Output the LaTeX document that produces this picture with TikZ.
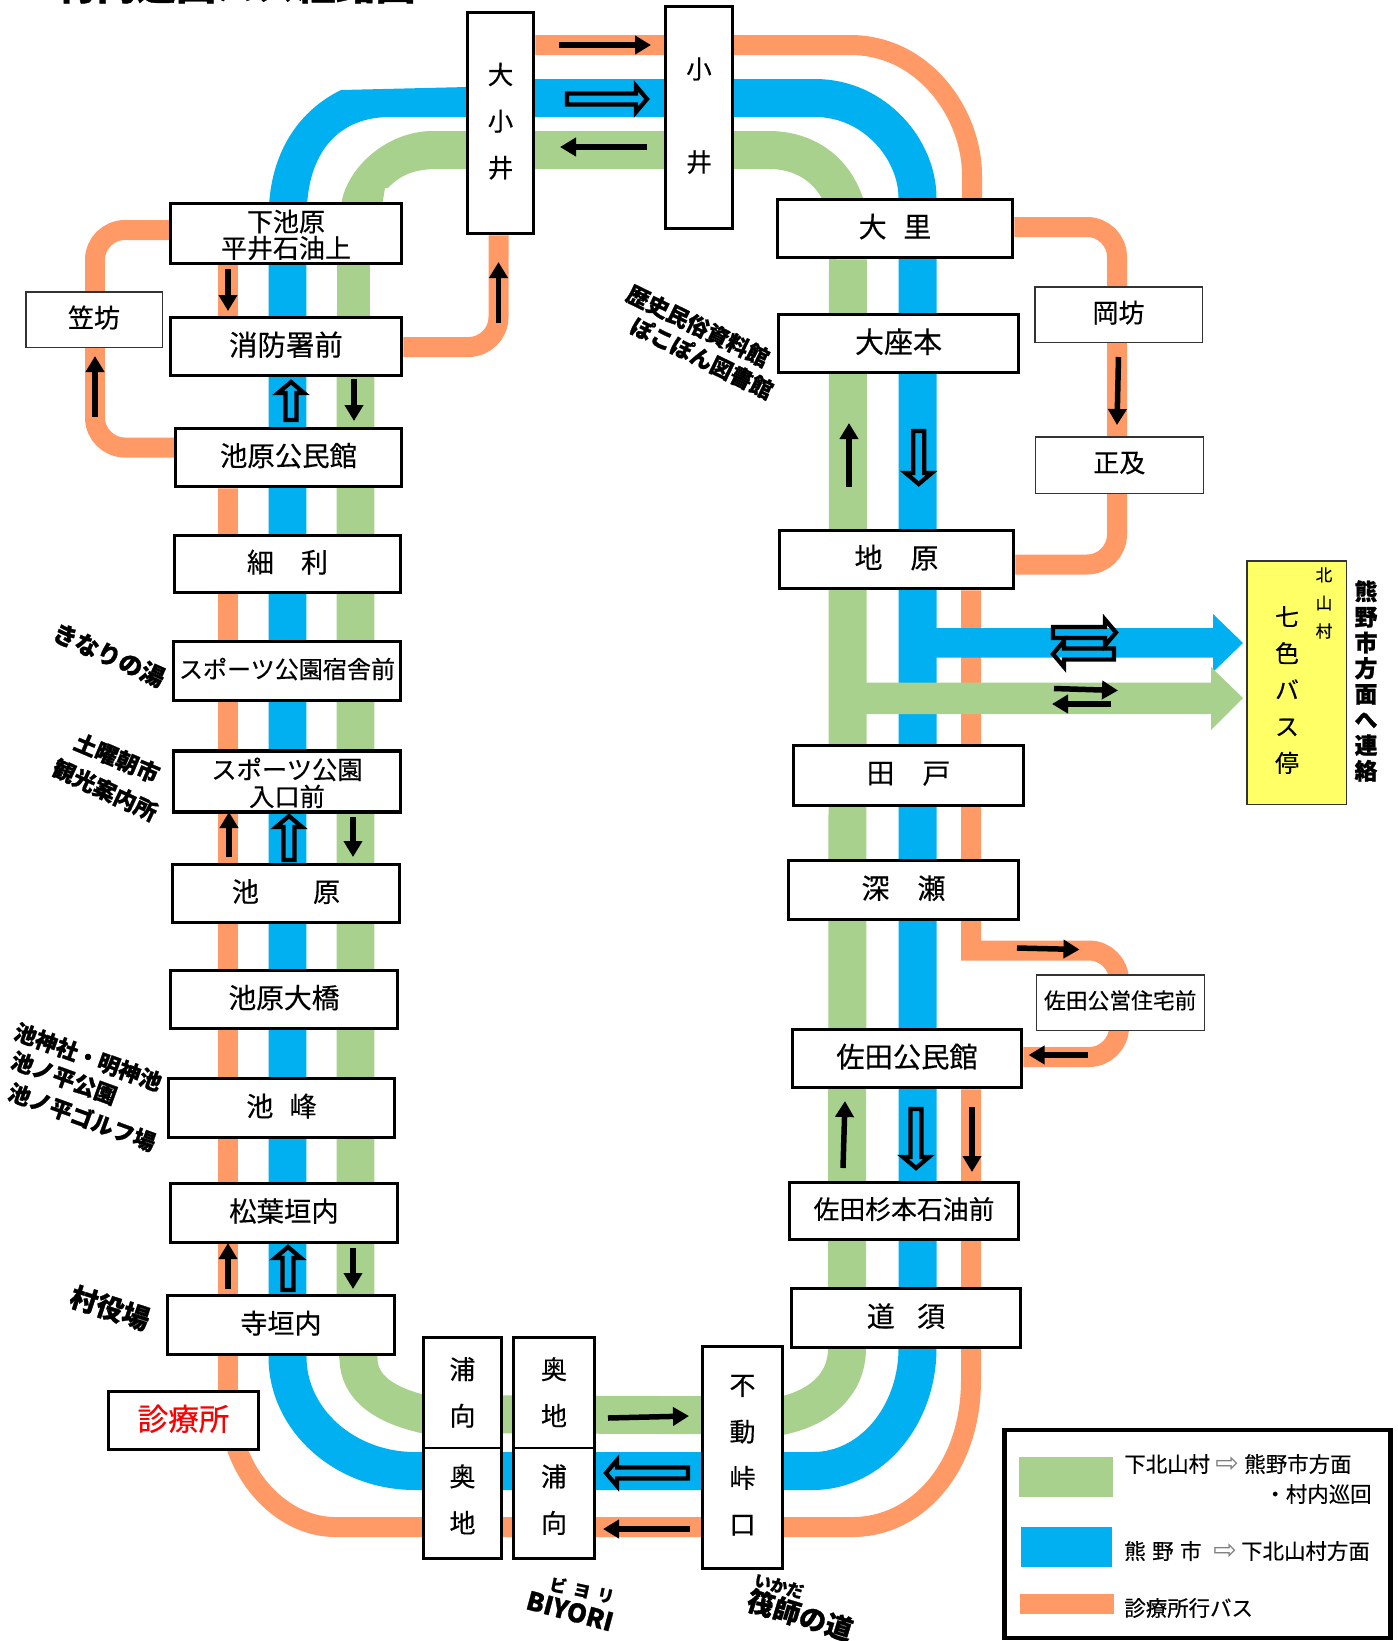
\documentclass[tikz,border=0pt]{standalone}
\usepackage{fontspec}
\setmainfont{Noto Sans CJK JP}[FakeBold=0.4, BoldFeatures={FakeBold=1.0}]
\newfontfamily\symbfont{DejaVu Sans}
\usetikzlibrary{arrows.meta, backgrounds}
\definecolor{busorange}{HTML}{FF9966}
\definecolor{busblue}{HTML}{00B0F0}
\definecolor{busgreen}{HTML}{A9D18E}
\definecolor{busyellow}{HTML}{FFFF66}

\begin{document}
\begin{tikzpicture}
% Style
[
    x=0.02cm, y=-0.02cm,
    stop box/.style={draw=black, line width=.07cm, fill=white, inner sep=0pt, align=center, text depth=.12cm},
    thin box/.style={draw=black!80, line width=.03cm, fill=white, inner sep=0pt, align=center, text depth=.12cm},
    swatch/.style={inner sep=0pt},
    band orange/.style={draw=busorange, line width=.4cm},
    band blue/.style={draw=busblue, line width=.76cm},
    band green/.style={draw=busgreen, line width=.76cm},
    dir arrow/.style={draw=black, line width=.11cm, -{Triangle[length=.32cm,width=.36cm]}},
    hollow arrow/.style={draw=black, line width=.085cm, line join=miter},
    spot label/.style={font=\bfseries\fontsize{\fs}{\fs}\selectfont, inner sep=0pt},
    legend text/.style={font=\fontsize{12.2}{14}\selectfont, inner sep=0pt}
]

% Define: hollow arrow from (#1,#2) to (#3,#4)
\newcommand{\drawhollow}[4]{
    \pgfmathsetmacro{\hlen}{veclen(#3-#1,#4-#2)}
    \pgfmathsetmacro{\ux}{(#3-#1)/\hlen}
    \pgfmathsetmacro{\uy}{(#4-#2)/\hlen}
    \begin{scope}[shift={(#1,#2)}, x={({\ux*0.02cm},{-\uy*0.02cm})}, y={({-\uy*0.02cm},{-\ux*0.02cm})}]
        \draw[hollow arrow] (2,-5.5)--({\hlen-15},-5.5)--({\hlen-15},-13)--({\hlen-4},0)
            --({\hlen-15},13)--({\hlen-15},5.5)--(2,5.5)--cycle;
    \end{scope}
}
% Define: arrow for legend
\newcommand{\keyarrow}{{\symbfont\fontsize{16}{14}\selectfont\textcolor{gray}{⇨}}}

\useasboundingbox (0,0) rectangle (1398,1641);

%================================== Stops ==================================
\foreach \nm/\xa/\ya/\xb/\yb/\fs/\bl/\txt in {
    shimoike/170/204/402/263/14.8/15/{\rule{0pt}{16pt}下池原\\平井石油上},
    fire/170/317/402/376/16.2/16/消防署前,
    ikeharahall/175/428/402/487/15.6/16/池原公民館,
    hosori/174/535/401/593/15.4/16/細　利,
    sportsinn/173/641/401/701/13.7/16/スポーツ公園宿舎前,
    sportsgate/173/752/401/811/14.4/15.4/{\rule{0pt}{16pt}スポーツ公園\\入口前},
    ikehara/172/864/400/923/15.4/16/池　　原,
    bridge/170/970/398/1029/15.8/16/池原大橋,
    ikemine/168/1078/395/1138/15.4/16/池\hspace{.6em}峰,
    matsuba/170/1183/398/1243/15.6/16/松葉垣内,
    teragaito/167/1295/395/1355/15.4/16/寺垣内,
    oogoi/467/12/534/234/14.5/26.5/{大\\小\\井},
    koi/665/6/733/229/14.5/53/{小\\井},
    oosato/777/199/1013/258/15.9/16/大\hspace{.6em}里,
    ozamoto/778/314/1019/373/16.5/16/大座本,
    jibara/779/530/1014/589/15.9/16/地　原,
    tado/793/745/1024/806/15.9/16/田　戸,
    fukase/788/860/1019/920/15.9/16/深　瀬,
    satahall/792/1029/1022/1088/16.1/16/佐田公民館,
    satasugi/789/1182/1019/1240/14.7/16/佐田杉本石油前,
    dosu/791/1288/1021/1348/15.9/16/道\hspace{.8em}須,
    urabox/423/1337/502/1559/14.8/26.5/{浦\\向\\[8pt]奥\\地},
    okubox/513/1337/595/1559/14.8/26.5/{奥\\地\\[8pt]浦\\向},
    fudo/702/1346/783/1569/14.8/26.4/{不\\動\\峠\\口}%
}{
    \node[stop box, font=\fontsize{\fs}{\bl}\selectfont, minimum width={(\xb-\xa-1)*0.02cm},
        minimum height={(\yb-\ya-1)*0.02cm}] (\nm) at ({(\xa+\xb)/2},{(\ya+\yb)/2}) {\txt};
}
\foreach \nm/\xa/\ya/\xb/\yb/\fs/\txt in {
    kasabo/25/291/163/348/14.8/笠坊,
    okabo/1034/286/1203/343/14.8/岡坊,
    masachika/1034.5/436/1204/494/14.8/正及,
    satakoei/1035.5/974/1205/1031/12.4/佐田公営住宅前%
}{
    \node[thin box, font=\fontsize{\fs}{16}\selectfont, minimum width={(\xb-\xa-1.5)*0.02cm},
        minimum height={(\yb-\ya-1.5)*0.02cm}] (\nm) at ({(\xa+\xb)/2},{(\ya+\yb)/2}) {\txt};
}
\node[stop box, text=red, font=\fontsize{17.4}{18}\selectfont, minimum width=150*0.02cm,
    minimum height=58*0.02cm] (clinic) at (183.5,1420.5) {診療所};
\draw[line width=.03cm] (urabox.west |- 0,1448) -- (urabox.east |- 0,1448);
\draw[line width=.03cm] (okubox.west |- 0,1448) -- (okubox.east |- 0,1448);

% Draw: Bus stop at the right
\node[thin box, fill=busyellow, minimum width=99.5*0.02cm, minimum height=243.5*0.02cm] (nanairo) at (1296.5,682.5) {};
\node[align=center, inner sep=0pt, font=\fontsize{13.6}{20.8}\selectfont] (nanaironame) at (1287,690) {七\\色\\バ\\ス\\停};
\node[align=center, inner sep=0pt, font=\fontsize{9.5}{16}\selectfont] (kitayama) at (1324,603) {北\\山\\村};
\node[align=center, inner sep=0pt, font=\bfseries\fontsize{13}{14.6}\selectfont] (renraku) at (1366,681) {熊\\野\\市\\方\\面\\へ\\連\\絡};

%================================== Labels =================================
\node[font=\bfseries\fontsize{22.7}{22.7}\selectfont, inner sep=0pt] (title) at (236,-15.5) {村内巡回バス経路図};
\foreach \nm/\cx/\cy/\ang/\fs/\txt in {
    museum/698/326/-26/12.6/歴史民俗資料館,
    library/702/358/-26/12.6/ぽこぽん図書館,
    onsen/109/655/-24/13.6/きなりの湯,
    market/117/758/-23/12.8/土曜朝市,
    info/105/790/-25/12.8/観光案内所,
    shrine/88/1057/-20/12.6/池神社・明神池,
    park/64/1078/-20/12.6/池ノ平公園,
    golf/82/1117/-20/12.6/池ノ平ゴルフ場,
    office/110/1308/-18/15.5/村役場,
    biyorikana/582/1590/-12/9.5/ビ\hspace{.45em}ヨ\hspace{.45em}リ,
    ikadakana/779/1586/-15/9.5/いかだ,
    ikada/800/1615/-17/15.5/筏師の道,
    biyori/570/1611/-15/14.5/BIYORI%
}{
    \node[spot label, rotate=\ang] (\nm) at (\cx,\cy) {\txt};
}

%================================== Legend =================================
\node[draw=black, line width=.09cm, minimum width=386*0.02cm, minimum height=208*0.02cm, inner sep=0pt] (legend) at (1197.5,1534) {};
\node[swatch, fill=busgreen, minimum width=94*0.02cm, minimum height=40*0.02cm] (keygreen) at (1066,1477) {};
\node[swatch, fill=busblue, minimum width=91*0.02cm, minimum height=40*0.02cm] (keyblue) at (1066.5,1547) {};
\node[swatch, fill=busorange, minimum width=94*0.02cm, minimum height=20*0.02cm] (keyorange) at (1067,1604) {};
\node[legend text, anchor=west] (textgreen) at (1124,1464) {下北山村\hspace{.25em}\keyarrow\hspace{.25em}熊野市方面};
\node[legend text, anchor=east] (textround) at (1372,1494) {・村内巡回};
\node[legend text, anchor=west] (textblue) at (1124,1551) {熊\hspace{.3em}野\hspace{.3em}市\hspace{.55em}\keyarrow\hspace{.2em}下北山村方面};
\node[legend text, anchor=west] (textorange) at (1124,1608) {診療所行バス};

%================================== Routes =================================
\begin{scope}[on background layer]
    % Draw: Orange
    \draw[band orange] (ikeharahall.west |- 0,447.5) [rounded corners=.6cm] -- (95,447.5) -- (95,230) -- (shimoike.west |- 0,230);
    \draw[band orange] (228,0 |- shimoike.south) -- (228,0 |- fire.north);
    \draw[band orange] (fire.east |- 0,347) [rounded corners=.6cm] -- (498.5,347) -- (498.5,0 |- oogoi.south);
    \draw[band orange] (oogoi.east |- 0,45) -- (850,45) .. controls (925,45) and (972,115) .. (972,175) -- (972,0 |- oosato.north);
    \draw[band orange] (oosato.east |- 0,227) [rounded corners=.6cm] -- (1117,227) -- (1117,564.5) -- (jibara.east |- 0,564.5);
    \draw[band orange] (971,0 |- jibara.south) -- (971,950.5) [rounded corners=.6cm] -- (1119,950.5) -- (1119,1057) -- (satahall.east |- 0,1057);
    \draw[band orange] (971,0 |- satahall.south) -- (971,1380) .. controls (971,1470) and (915,1527) .. (853,1527)
        -- (335,1527) .. controls (295,1527) and (255,1497) .. (237.5,1450) -- (228,1420) -- (228,0 |- ikeharahall.south);

    % Draw: Blue
    \draw[band blue] (287.5,0 |- shimoike.north) -- (287.5,1357) .. controls (287.5,1420) and (345,1471) .. (415,1471)
        -- (813,1471) .. controls (871,1471) and (917.5,1416) .. (917.5,1348) -- (917.5,0 |- oosato.north)
        .. controls (917.5,150) and (875,98) .. (815,98) -- (oogoi.center |- 0,98);
    \fill[busblue] (269,206) .. controls (272,150) and (300,110) .. (341,90) -- (467,87) -- (467,117) -- (390,117)
        .. controls (340,117) and (310,150) .. (307,206) -- cycle;
    \fill[busblue] (918,628) -- (1213,628) -- (1213,614) -- (1243,643) -- (1213,672) -- (1213,657.5) -- (918,657.5) -- cycle;

    % Draw: Green
    \draw[band green] (355.5,0 |- fire.north) -- (355.5,1340) -- (358.5,1358) .. controls (358.5,1388) and (385,1405) .. (423,1414)
        -- (783,1415.5) .. controls (820,1407) and (847,1385) .. (847,1348) -- (848,0 |- oosato.south);
    \draw[draw=busgreen, line width=.66cm] (353.5,0 |- shimoike.south) -- (353.5,0 |- fire.north);
    \draw[band green] (848,215) .. controls (838,170) and (805,150) .. (769,150) -- (oogoi.center |- 0,150);
    \fill[busgreen] (341,206) .. controls (345,170) and (385,131) .. (433,131) -- (467,131) -- (467,169) -- (437,169)
        .. controls (415,169) and (400,175) .. (388,188) -- (385,188) -- (382,206) -- cycle;
    \fill[busgreen] (848,682.5) -- (1211,682.5) -- (1211,667) -- (1243,698) -- (1211,730) -- (1211,714) -- (848,714) -- cycle;
\end{scope}

%================================== Arrows =================================
\foreach \xa/\ya/\xb/\yb in {
    559/45/651/45, 647/147/560/147, 228/269/228/311, 95/417/95/356, 498.5/323/498.5/262,
    354/379/354/421, 849/487/849/423, 1118.5/357/1117/425, 229/857/229/812, 353/817/353/857,
    228/1289/228/1243, 353/1248/353/1289, 1017/948/1079.5/949.5, 1087.6/1055/1028.6/1055,
    1054/688.5/1118/690.5, 1111/704/1052/704, 843/1168/845/1101, 972/1107/972/1172,
    608/1418/689/1416, 690/1529/603/1529%
}{
    \draw[dir arrow] (\xa,\ya)--(\xb,\yb);
}
\foreach \xa/\ya/\xb/\yb in {
    565/99/651/99, 291/422/291/378, 918.7/429/918.7/488, 289/862/289/812, 288/1292/288/1243,
    1051/632.5/1120/632.5, 1116/654/1049/654, 916/1107/916/1172, 690/1473/602/1473%
}{
    \drawhollow{\xa}{\ya}{\xb}{\yb}
}

\end{tikzpicture}
\end{document}
